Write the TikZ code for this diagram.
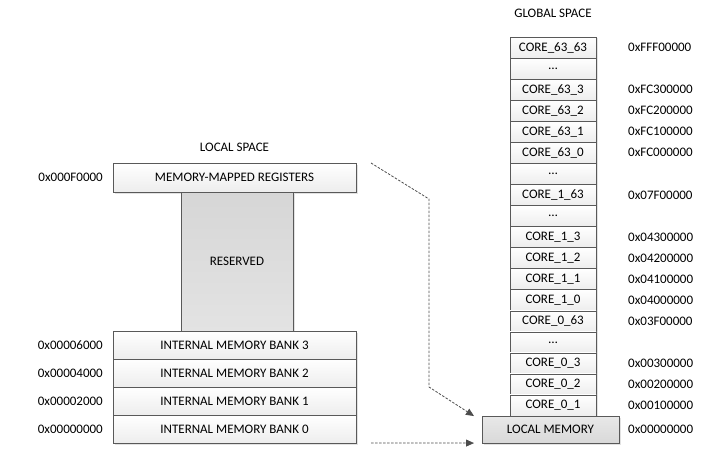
\documentclass[tikz,border=0pt]{standalone}
\usepackage{fontspec}
\setmainfont{Carlito}
\usetikzlibrary{arrows.meta,positioning,shadows}

\begin{document}
\begin{tikzpicture}[x=1pt, y=-1pt, >={Triangle[length=8pt,width=7pt]},
    font=\fontsize{13}{15.6}\selectfont]
  \tikzstyle{box} = [draw=black!65, top color=white, bottom color=gray!14, inner sep=0pt, outer sep=0pt,
                     drop shadow={shadow xshift=1.5pt, shadow yshift=-1.5pt, fill=gray!50, opacity=0.45}]
  \tikzstyle{bank} = [box, minimum width=243pt, minimum height=28pt]
  \tikzstyle{cell} = [box, minimum width=86pt, minimum height=21.06pt]
  \tikzstyle{addr} = [inner sep=0pt, anchor=west]
  \tikzstyle{link} = [->, draw=black!70, dash pattern=on 2.5pt off 1.5pt, thick]
  \useasboundingbox (0,0) rectangle (715,456);

  % local space
  \node[bank, minimum height=29pt] (mmr) at (234.5,177.5) {MEMORY-MAPPED REGISTERS};
  \node[box, top color=gray!32, bottom color=gray!22, minimum width=112pt, minimum height=139pt]
    (res) at (237,261.5) {RESERVED};
  \node[bank] (bank3) at (234.5,345) {INTERNAL MEMORY BANK 3};
  \node[bank, below=0pt of bank3] (bank2) {INTERNAL MEMORY BANK 2};
  \node[bank, below=0pt of bank2] (bank1) {INTERNAL MEMORY BANK 1};
  \node[bank, below=0pt of bank1] (bank0) {INTERNAL MEMORY BANK 0};
  \node[above=8pt of mmr] (ltitle) {LOCAL SPACE};

  \node[addr, anchor=east, left=10pt of mmr] (amm) {0x000F0000};
  \node[addr, anchor=east, left=10pt of bank3] (ab3) {0x00006000};
  \node[addr, anchor=east, left=10pt of bank2] (ab2) {0x00004000};
  \node[addr, anchor=east, left=10pt of bank1] (ab1) {0x00002000};
  \node[addr, anchor=east, left=10pt of bank0] (ab0) {0x00000000};

  % global space
  \foreach \lab [count=\i] in {CORE\_63\_63, \ldots, CORE\_63\_3, CORE\_63\_2, CORE\_63\_1, CORE\_63\_0, \ldots,
      CORE\_1\_63, \ldots, CORE\_1\_3, CORE\_1\_2, CORE\_1\_1, CORE\_1\_0, CORE\_0\_63, \ldots,
      CORE\_0\_3, CORE\_0\_2, CORE\_0\_1}
    \node[cell] (c\i) at (553,{47.5+21.06*(\i-1)}) {\lab};
  \node[box, top color=gray!18, bottom color=gray!30, minimum width=137pt, minimum height=27pt,
    below=0pt of c18, xshift=-2.5pt] (lmem) {LOCAL MEMORY};
  \node[above=16pt of c1] (gtitle) {GLOBAL SPACE};

  \foreach \i/\addr in {1/0xFFF00000, 3/0xFC300000, 4/0xFC200000, 5/0xFC100000, 6/0xFC000000,
      8/0x07F00000, 10/0x04300000, 11/0x04200000, 12/0x04100000, 13/0x04000000,
      14/0x03F00000, 16/0x00300000, 17/0x00200000, 18/0x00100000}
    \node[addr, right=32pt of c\i] (a\i) {\addr};
  \node[addr, right=9pt of lmem] (alm) {0x00000000};

  % mapping
  \draw[link] ([xshift=15pt]mmr.north east) -- ++(58,36) -- ++(0,188) -- ([xshift=-8pt]lmem.north west);
  \draw[link] ([xshift=15pt]bank0.south east) -- ([xshift=-8pt]lmem.south west);
\end{tikzpicture}
\end{document}
